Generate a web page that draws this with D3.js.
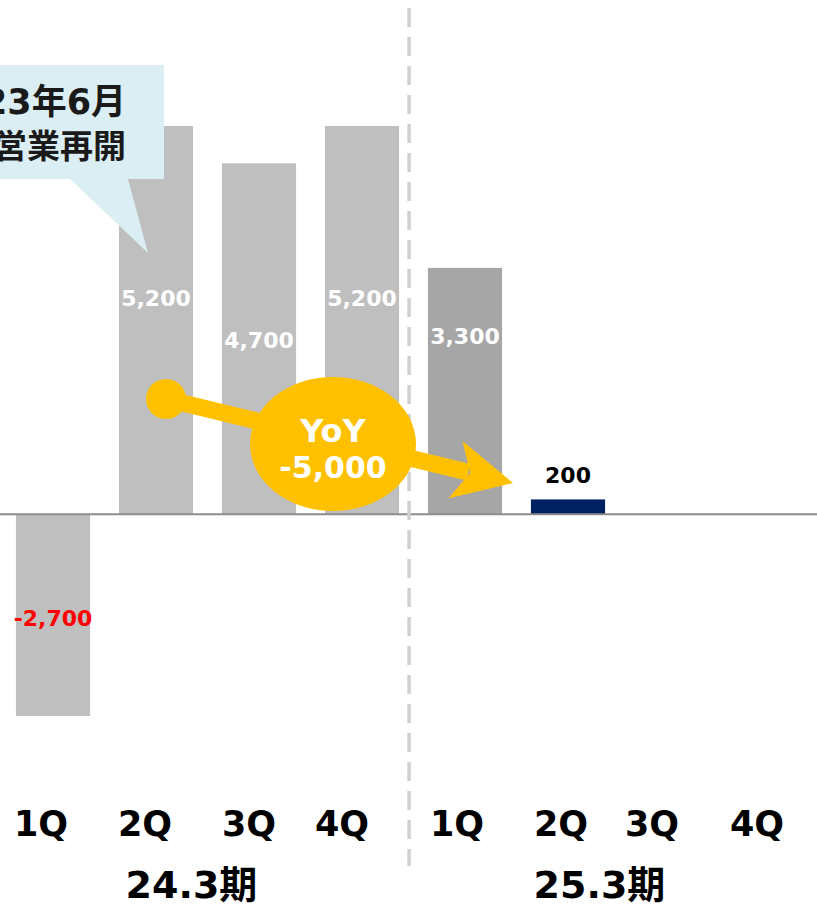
<!DOCTYPE html>
<html><head><meta charset="utf-8">
<script src="https://cdn.jsdelivr.net/npm/d3@7"></script>
<style>
html,body{margin:0;padding:0;background:#fff;overflow:hidden;}
svg{display:block;}
</style></head>
<body>
<script>
// ---- data ----
const categories = ["24.3-1Q","24.3-2Q","24.3-3Q","24.3-4Q","25.3-1Q","25.3-2Q","25.3-3Q","25.3-4Q"];
const quarterLabels = ["1Q","2Q","3Q","4Q","1Q","2Q","3Q","4Q"];
const values = [-2700, 5200, 4700, 5200, 3300, 200, null, null];
const valueLabels = ["-2,700","5,200","4,700","5,200","3,300","200","",""];
const periods = ["24.3期","25.3期"];
const calloutLines = ["2023年6月","営業再開"];
const yoyLines = ["YoY","-5,000"];

// ---- layout / style ----
const W = 817, H = 909;
const barColors = ["#bfbfbf","#bfbfbf","#bfbfbf","#bfbfbf","#a6a6a6","#002060","#bfbfbf","#bfbfbf"];
const labelColors = ["#ff0000","#ffffff","#ffffff","#ffffff","#ffffff","#000000","#000","#000"];
const labelCY = [618, 298, 340, 298, 336, 475, 0, 0];   // label centre (px)
const tickShift = [-12,-11,-10,-20,-8,-7,-19,-17];

const svg = d3.select("body").append("svg").attr("width", W).attr("height", H);

const x = d3.scaleBand().domain(categories).range([1.5, 825.5]).paddingInner(0.28).paddingOuter(0.14);
const y = d3.scaleLinear().domain([-2700, 5200]).range([716, 126]);

// bars
svg.append("g").selectAll("rect").data(categories.map((c,i)=>({c,v:values[i],i})).filter(d=>d.v!=null))
  .join("rect")
  .attr("x", d=>x(d.c)).attr("width", x.bandwidth())
  .attr("y", d=>y(Math.max(0,d.v))).attr("height", d=>Math.abs(y(d.v)-y(0)))
  .attr("fill", d=>barColors[d.i]);

// baseline
svg.append("line").attr("x1",0).attr("x2",W).attr("y1",y(0)).attr("y2",y(0))
  .attr("stroke","#8c8c8c").attr("stroke-width",2);

// dashed divider
const divX = x("24.3-4Q")+x.bandwidth() + 10;
svg.append("line").attr("x1",divX).attr("x2",divX).attr("y1",8).attr("y2",866)
  .attr("stroke","#d0d0d0").attr("stroke-width",3.5).attr("stroke-dasharray","19 10");

// value labels
svg.append("g").selectAll("text").data(categories.map((c,i)=>({c,i,t:valueLabels[i]})).filter(d=>d.t))
  .join("text")
  .attr("x", d=>x(d.c)+x.bandwidth()/2).attr("y", d=>labelCY[d.i]+8)
  .attr("text-anchor","middle")
  .attr("font-family","'DejaVu Sans', Verdana, sans-serif").attr("font-weight","bold").attr("font-size",22)
  .attr("fill", d=>labelColors[d.i])
  .text(d=>d.t);

// callout
const cg = svg.append("g");
cg.append("path")
  .attr("d","M-100,65 L164,65 L164,179 L128,179 L148,253 L70,179 L-100,179 Z")
  .attr("fill","#daeef3");
cg.selectAll("text").data(calloutLines).join("text")
  .attr("x",126).attr("y",(d,i)=>114+i*44)
  .attr("text-anchor","end")
  .attr("font-family","'DejaVu Sans', 'Noto Sans CJK JP', sans-serif").attr("font-weight","bold")
  .attr("font-size",(d,i)=>i?33:35)
  .attr("fill","#1a1a1a")
  .text(d=>d);

// YoY arrow
const ag = svg.append("g").attr("fill","#ffc000");
const p0 = [166, 399], tip = [513, 483];
const dx = tip[0]-p0[0], dy = tip[1]-p0[1], L = Math.hypot(dx,dy);
const ux = dx/L, uy = dy/L, nx = -uy, ny = ux;
const pt = (a,b)=>[tip[0]+ux*a+nx*b, tip[1]+uy*a+ny*b];
ag.append("line").attr("x1",p0[0]).attr("y1",p0[1])
  .attr("x2",pt(-46,0)[0]).attr("y2",pt(-46,0)[1])
  .attr("stroke","#ffc000").attr("stroke-width",17);
ag.append("circle").attr("cx",p0[0]).attr("cy",p0[1]).attr("r",20);
ag.append("path").attr("d", "M"+[pt(0,0),pt(-59,-29),pt(-44,0),pt(-59,30)].map(p=>p.join(",")).join("L")+"Z");
ag.append("ellipse").attr("cx",333).attr("cy",444).attr("rx",83).attr("ry",67);
ag.selectAll("text").data(yoyLines).join("text")
  .attr("x",333).attr("y",(d,i)=>442+i*36)
  .attr("text-anchor","middle")
  .attr("font-family","'DejaVu Sans', Verdana, sans-serif").attr("font-weight","bold").attr("font-size",(d,i)=>i?30:32)
  .attr("fill","#ffffff")
  .text(d=>d);

// quarter tick labels
svg.append("g").selectAll("text").data(categories).join("text")
  .attr("x",(d,i)=>x(d)+x.bandwidth()/2+tickShift[i]).attr("y",836)
  .attr("text-anchor","middle")
  .attr("font-family","'DejaVu Sans', Verdana, sans-serif").attr("font-weight","bold").attr("font-size",35)
  .attr("fill","#000")
  .text((d,i)=>quarterLabels[i]);

// period labels
const perX = [
  (x(categories[0]) + x(categories[3]) + x.bandwidth())/2 - 16,
  (x(categories[4]) + x(categories[7]) + x.bandwidth())/2 - 20
];
svg.append("g").selectAll("text").data(periods).join("text")
  .attr("x",(d,i)=>perX[i]).attr("y",898)
  .attr("text-anchor","middle")
  .attr("font-family","'DejaVu Sans', 'Noto Sans CJK JP', sans-serif").attr("font-weight","bold").attr("font-size",38)
  .attr("fill","#000")
  .text(d=>d);
</script>
</body></html>
